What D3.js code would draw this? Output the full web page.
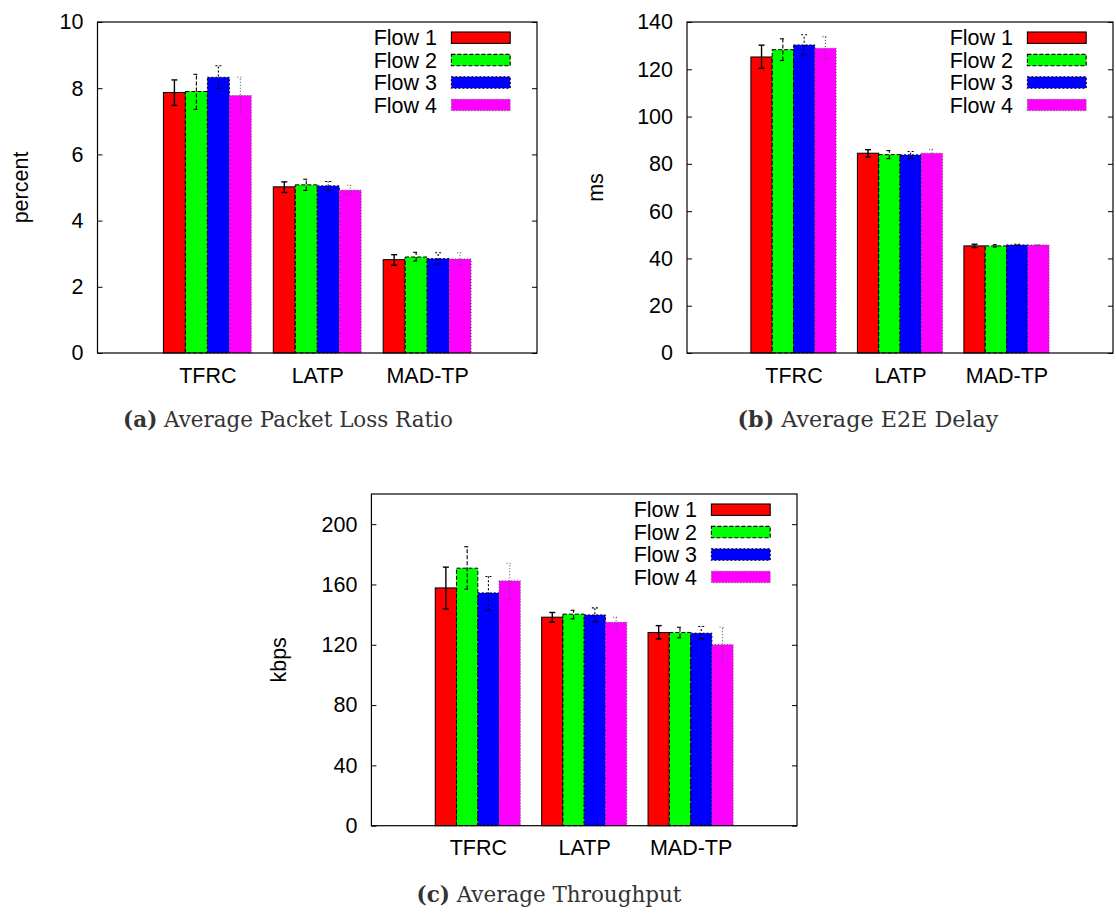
<!DOCTYPE html>
<html><head><meta charset="utf-8">
<script src="https://cdn.jsdelivr.net/npm/d3@7/dist/d3.min.js"></script>
<style>body{margin:0;background:#fff;} svg{display:block;}</style>
</head><body>
<svg id="chart" width="1116" height="914"></svg>
<script>
// ---------- data ----------
const categories = ["TFRC", "LATP", "MAD-TP"];
const flows = ["Flow 1", "Flow 2", "Flow 3", "Flow 4"];

// (a) Average Packet Loss Ratio (percent) — rows: flows, cols: categories
const lossTicks = [0, 2, 4, 6, 8, 10];
const lossValues = [[7.87, 5.02, 2.82], [7.90, 5.08, 2.90], [8.33, 5.05, 2.85], [7.78, 4.92, 2.84]];
const lossLower  = [[7.48, 4.85, 2.65], [7.36, 4.91, 2.78], [7.99, 4.91, 2.69], [7.26, 4.79, 2.65]];
const lossUpper  = [[8.25, 5.17, 2.97], [8.42, 5.25, 3.04], [8.68, 5.18, 3.03], [8.33, 5.07, 3.03]];

// (b) Average E2E Delay (ms)
const delayTicks = [0, 20, 40, 60, 80, 100, 120, 140];
const delayValues = [[125.2, 84.5, 45.3], [128.3, 83.9, 45.3], [130.3, 83.8, 45.7], [128.9, 84.5, 45.7]];
const delayLower  = [[120.4, 82.9, 44.6], [123.7, 82.2, 44.8], [126.1, 82.2, 45.4], [124.3, 83.1, 45.5]];
const delayUpper  = [[130.2, 86.0, 46.0], [132.9, 85.6, 45.8], [134.6, 85.2, 46.0], [133.8, 86.2, 45.9]];

// (c) Average Throughput (kbps)
const tputTicks = [0, 40, 80, 120, 160, 200];
const tputValues = [[157.7, 138.3, 128.1], [170.8, 140.3, 128.1], [154.4, 139.8, 127.7], [162.4, 135.0, 120.1]];
const tputLower  = [[143.8, 135.0, 123.9], [156.9, 137.2, 124.6], [142.9, 135.0, 123.9], [150.2, 131.6, 108.4]];
const tputUpper  = [[171.5, 141.4, 132.7], [185.0, 142.9, 131.6], [165.3, 144.5, 132.1], [174.1, 138.3, 131.6]];

// ---------- styles ----------
const flowColors = ["#ff0000", "#00ff00", "#0000ff", "#ff00ff"];
const flowDash = [null, "4,2", "2,2", "1,2"];
const flowStroke = ["#000", "#000", "#000", "#555"];
const SANS = "'Liberation Sans', Arial, Helvetica, sans-serif";
const SERIF = "'DejaVu Serif', 'Liberation Serif', serif";
const FS = 21.5;

const svg = d3.select("#chart");

function drawPanel(cfg) {
  const g = svg.append("g");
  const x = d3.scaleLinear().domain([-1, 3]).range([cfg.left, cfg.right]);
  const y = d3.scaleLinear().domain([0, cfg.yMax]).range([cfg.bottom, cfg.top]);

  // bars
  flows.forEach((f, j) => {
    const sg = g.append("g");
    sg.selectAll("rect").data(categories.map((c, i) => ({i, v: cfg.values[j][i]})))
      .join("rect")
      .attr("x", d => x(d.i + (j - 2) * 0.2))
      .attr("width", d => x(d.i + (j - 1) * 0.2) - x(d.i + (j - 2) * 0.2))
      .attr("y", d => y(d.v))
      .attr("height", d => y(0) - y(d.v))
      .attr("fill", flowColors[j])
      .attr("stroke", flowStroke[j])
      .attr("stroke-width", 1)
      .attr("stroke-dasharray", flowDash[j]);
  });
  // error bars
  flows.forEach((f, j) => {
    const eg = g.append("g")
      .attr("stroke", flowStroke[j])
      .attr("stroke-width", j === 0 ? 1.4 : 1.1)
      .attr("stroke-dasharray", flowDash[j])
      .attr("fill", "none");
    categories.forEach((c, i) => {
      const cx = x(i + (j - 1.5) * 0.2);
      const lo = y(cfg.lower[j][i]), hi = y(cfg.upper[j][i]);
      eg.append("line").attr("x1", cx).attr("x2", cx).attr("y1", lo).attr("y2", hi);
      eg.append("line").attr("x1", cx - 3).attr("x2", cx + 3).attr("y1", lo).attr("y2", lo);
      eg.append("line").attr("x1", cx - 3).attr("x2", cx + 3).attr("y1", hi).attr("y2", hi);
    });
  });

  // axes
  const ya = g.append("g").attr("transform", `translate(${cfg.left},0)`)
    .call(d3.axisLeft(y).tickValues(cfg.ticks).tickSizeInner(-5).tickSizeOuter(0).tickPadding(14));
  ya.select(".domain").remove();
  ya.selectAll("text").attr("font-size", FS).attr("font-family", SANS).attr("fill", "#000");
  const yr = g.append("g").attr("transform", `translate(${cfg.right},0)`)
    .call(d3.axisRight(y).tickValues(cfg.ticks).tickSizeInner(-5).tickSizeOuter(0).tickFormat(""));
  yr.select(".domain").remove();
  const xa = g.append("g").attr("transform", `translate(0,${cfg.bottom})`)
    .call(d3.axisBottom(x).tickValues([0, 1, 2]).tickFormat(i => categories[i]).tickSize(0).tickPadding(14.5));
  xa.select(".domain").remove();
  xa.selectAll("text").attr("font-size", FS).attr("font-family", SANS).attr("fill", "#000");

  // frame
  g.append("rect").attr("x", cfg.left).attr("y", cfg.top)
    .attr("width", cfg.right - cfg.left).attr("height", cfg.bottom - cfg.top)
    .attr("fill", "none").attr("stroke", "#000").attr("stroke-width", 1.2);

  // y label
  g.append("text")
    .attr("transform", `translate(${cfg.ylabelX},${(cfg.top + cfg.bottom) / 2}) rotate(-90)`)
    .attr("text-anchor", "middle").attr("dy", "0.35em")
    .attr("font-family", SANS).attr("font-size", FS).text(cfg.ylabel);

  // legend
  flows.forEach((f, j) => {
    const ry = cfg.top + 15.7 + j * 22.4;
    g.append("text").attr("x", cfg.right - 100).attr("y", ry).attr("dy", "0.36em")
      .attr("text-anchor", "end").attr("font-family", SANS).attr("font-size", FS).text(f);
    g.append("rect").attr("x", cfg.right - 85.6).attr("y", ry - 5.7)
      .attr("width", 58.8).attr("height", 11.4)
      .attr("fill", flowColors[j]).attr("stroke", flowStroke[j]).attr("stroke-width", 1.1)
      .attr("stroke-dasharray", flowDash[j]);
  });

  // caption
  const cap = svg.append("text").attr("x", cfg.capX).attr("y", cfg.capY)
    .attr("text-anchor", "middle").attr("font-family", SERIF).attr("font-size", 20).attr("fill", "#333");
  cap.append("tspan").attr("font-weight", "bold").text(cfg.capLetter);
  cap.append("tspan").text("\u00a0" + cfg.capText);
  const w = cap.node().getComputedTextLength();
  cap.attr("font-size", 20 * cfg.capWidth / w);
}

drawPanel({left: 97.5, right: 537, top: 22, bottom: 353, yMax: 10, ticks: lossTicks,
  values: lossValues, lower: lossLower, upper: lossUpper, ylabel: "percent", ylabelX: 20.7,
  capLetter: "(a)", capText: "Average Packet Loss Ratio", capX: 288, capY: 427, capWidth: 330});
drawPanel({left: 687, right: 1113, top: 22, bottom: 353, yMax: 140, ticks: delayTicks,
  values: delayValues, lower: delayLower, upper: delayUpper, ylabel: "ms", ylabelX: 595.5,
  capLetter: "(b)", capText: "Average E2E Delay", capX: 868, capY: 427, capWidth: 261});
drawPanel({left: 371.4, right: 797, top: 494, bottom: 825.7, yMax: 220, ticks: tputTicks,
  values: tputValues, lower: tputLower, upper: tputUpper, ylabel: "kbps", ylabelX: 278.6,
  capLetter: "(c)", capText: "Average Throughput", capX: 549, capY: 901.5, capWidth: 265});
</script>
</body></html>
